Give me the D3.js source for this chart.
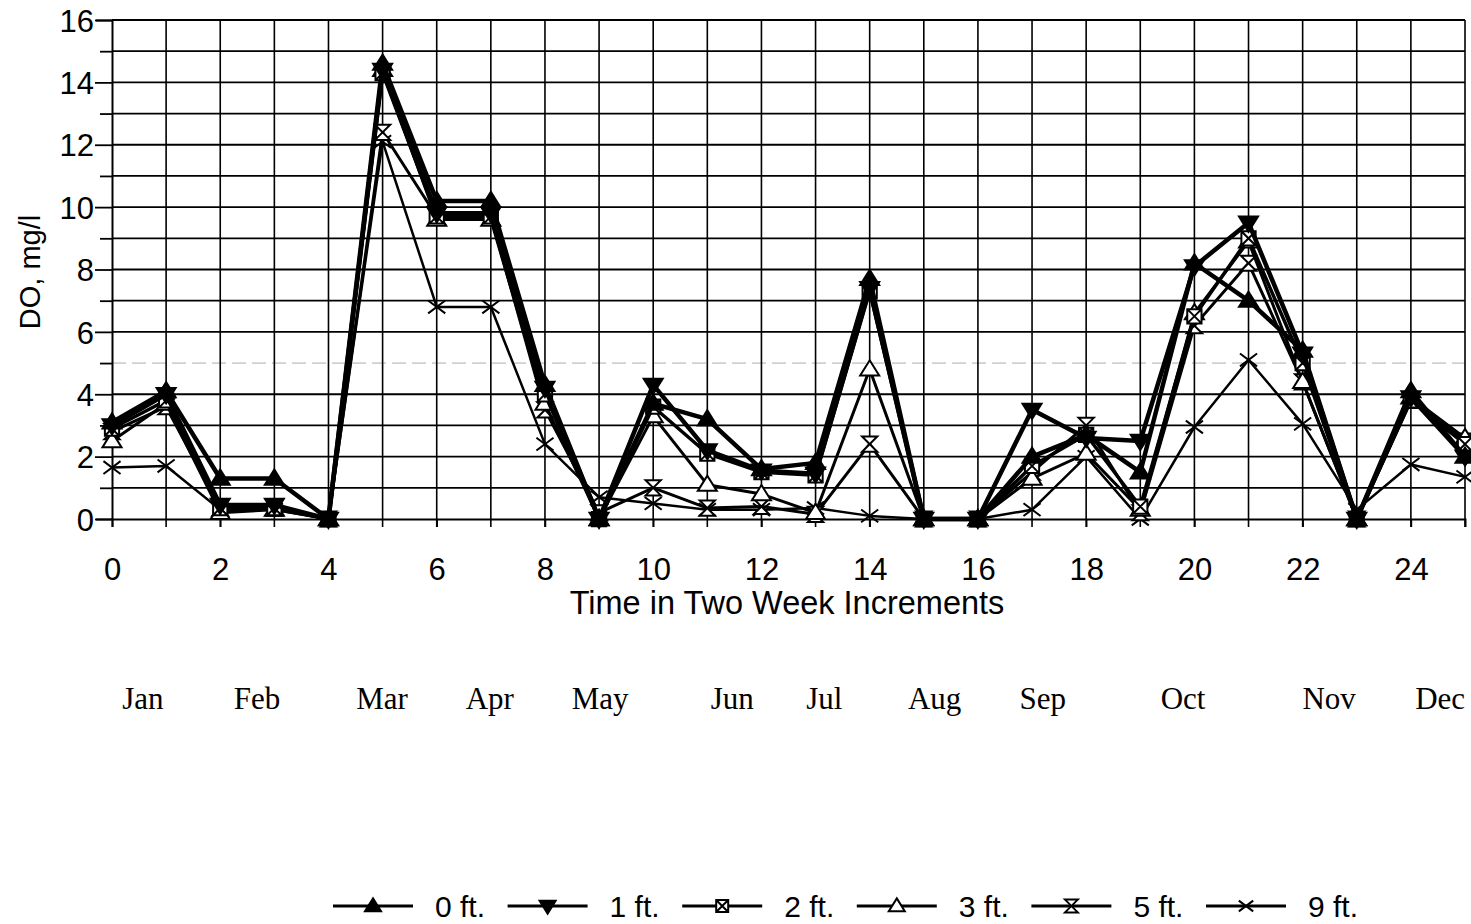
<!DOCTYPE html>
<html>
<head>
<meta charset="utf-8">
<script src="https://cdn.jsdelivr.net/npm/d3@7"></script>
<style>
  html, body { margin: 0; padding: 0; background: #fff; }
  svg { display: block; }
  text { fill: #000; }
</style>
</head>
<body>
<svg id="chart" width="1471" height="924"></svg>
<script>
// ---------- data ----------
const timeSteps = d3.range(0, 26);
const depth0 = [3.1, 4.1, 1.3, 1.3, 0, 14.6, 10.2, 10.2, 4.3, 0, 3.7, 3.2, 1.6, 1.8, 7.7, 0, 0, 2.0, 2.7, 1.5, 8.2, 7.0, 5.4, 0, 4.1, 2.0];
const depth1 = [3.0, 4.0, 0.45, 0.45, 0, 14.4, 9.8, 9.8, 4.2, 0, 4.3, 2.2, 1.55, 1.45, 7.4, 0, 0, 3.5, 2.6, 2.5, 8.1, 9.5, 5.3, 0, 3.9, 2.0];
const depth2 = [2.9, 3.8, 0.35, 0.35, 0, 14.3, 9.7, 9.7, 4.0, 0, 3.6, 2.1, 1.5, 1.4, 7.3, 0, 0, 1.7, 2.7, 0.4, 6.5, 9.0, 5.0, 0, 3.8, 2.4];
const depth3 = [2.5, 3.7, 0.2, 0.3, 0, 14.4, 9.6, 9.6, 3.7, 0, 3.3, 1.1, 0.8, 0.2, 4.8, 0, 0, 1.3, 2.1, 0.3, 6.6, 8.9, 4.4, 0, 3.9, 2.6];
const depth5 = [2.8, 3.6, 0.35, 0.35, 0, 12.4, 9.7, 9.7, 3.5, 0.2, 1.0, 0.35, 0.4, 0.15, 2.4, 0, 0, 1.5, 3.0, 0.2, 6.2, 8.2, 4.4, 0, 3.8, 2.5];
const depth9 = [1.65, 1.7, 0.3, 0.3, 0, 12.1, 6.8, 6.8, 2.4, 0.7, 0.5, 0.3, 0.3, 0.35, 0.1, 0, 0, 0.3, 2.0, 0.0, 2.95, 5.1, 3.05, 0.3, 1.75, 1.35];

const seriesNames = ["0 ft.", "1 ft.", "2 ft.", "3 ft.", "5 ft.", "9 ft."];
const seriesValues = [depth0, depth1, depth2, depth3, depth5, depth9];

const xTickLabels = [0, 2, 4, 6, 8, 10, 12, 14, 16, 18, 20, 22, 24];
const yTickLabels = [0, 2, 4, 6, 8, 10, 12, 14, 16];
const monthNames = ["Jan", "Feb", "Mar", "Apr", "May", "Jun", "Jul", "Aug", "Sep", "Oct", "Nov", "Dec"];
const monthAt = [0.57, 2.68, 4.99, 6.98, 9.02, 11.46, 13.16, 15.2, 17.2, 19.79, 22.49, 24.54];

const xTitle = "Time in Two Week Increments";
const yTitle = "DO, mg/l";

// ---------- styles ----------
const markerKinds = ["triUp", "triDown", "squareX", "triUpOpen", "hourglass", "cross"];
const lineWidths = [4.5, 4.5, 3.5, 3, 3, 2.5];

// ---------- layout ----------
const svg = d3.select("#chart");
const x = d3.scaleLinear().domain([0, 25]).range([112, 1465]);
const y = d3.scaleLinear().domain([0, 16]).range([519, 20]);

// grid
const grid = svg.append("g");
grid.selectAll("line.h").data(d3.range(1, 17)).join("line")
  .attr("x1", x(0)).attr("x2", x(25))
  .attr("y1", d => y(d)).attr("y2", d => y(d))
  .attr("stroke", d => d === 5 ? "#d0d0d0" : "#000")
  .attr("stroke-dasharray", d => d === 5 ? "14 6" : null)
  .attr("stroke-width", 1.8);
grid.selectAll("line.v").data(d3.range(1, 26)).join("line")
  .attr("x1", d => x(d)).attr("x2", d => x(d))
  .attr("y1", y(16)).attr("y2", y(0) + 8)
  .attr("stroke", "#000").attr("stroke-width", 1.6);

// y axis with ticks at every unit
const yAxis = svg.append("g").attr("transform", `translate(${x(0)},0)`)
  .call(d3.axisLeft(y).tickValues(d3.range(0, 17)).tickSize(16)
    .tickFormat(d => yTickLabels.includes(d) ? d : ""));
yAxis.select(".domain").attr("stroke", "#000").attr("stroke-width", 2);
yAxis.selectAll(".tick line").attr("stroke", "#000").attr("stroke-width", 1.8)
  .attr("x2", d => yTickLabels.includes(d) ? -17 : -12);
yAxis.selectAll(".tick text").attr("font-family", "Liberation Sans, Arial, sans-serif")
  .attr("font-size", 31).attr("x", -18).attr("dy", "0.36em").attr("fill", "#000");

// x axis
const xAxis = svg.append("g").attr("transform", `translate(0,${y(0)})`)
  .call(d3.axisBottom(x).tickValues(xTickLabels).tickSize(8).tickFormat(d => d));
xAxis.select(".domain").attr("stroke", "#000").attr("stroke-width", 2);
xAxis.selectAll(".tick line").attr("stroke", "#000").attr("stroke-width", 1.6);
xAxis.selectAll(".tick text").attr("font-family", "Liberation Sans, Arial, sans-serif")
  .attr("font-size", 31).attr("y", 50).attr("dy", "0.36em").attr("fill", "#000");

// top frame
svg.append("line").attr("x1", x(0)).attr("x2", x(25)).attr("y1", y(16)).attr("y2", y(16))
  .attr("stroke", "#000").attr("stroke-width", 2);

// titles
svg.append("text").attr("x", 787).attr("y", 614).attr("text-anchor", "middle")
  .attr("font-family", "Liberation Sans, Arial, sans-serif").attr("font-size", 32.5)
  .text(xTitle);
svg.append("text").attr("transform", "translate(40,272) rotate(-90)").attr("text-anchor", "middle")
  .attr("font-family", "Liberation Sans, Arial, sans-serif").attr("font-size", 29)
  .text(yTitle);

// month labels
svg.append("g").selectAll("text").data(monthNames).join("text")
  .attr("x", (d, i) => x(monthAt[i])).attr("y", 709).attr("text-anchor", "middle")
  .attr("font-family", "Liberation Serif, Times New Roman, serif").attr("font-size", 31)
  .text(d => d);

// marker drawing
function drawMarker(g, kind, s) {
  const h = s;
  if (kind === "triUp" || kind === "triUpOpen") {
    g.append("path").attr("d", `M0,${-h * 0.95}L${h},${h * 0.65}L${-h},${h * 0.65}Z`)
      .attr("fill", kind === "triUp" ? "#000" : "#fff").attr("stroke", "#000").attr("stroke-width", 2);
  } else if (kind === "triDown") {
    g.append("path").attr("d", `M0,${h * 0.95}L${h},${-h * 0.65}L${-h},${-h * 0.65}Z`)
      .attr("fill", "#000").attr("stroke", "#000").attr("stroke-width", 2);
  } else if (kind === "squareX") {
    const a = h * 0.75;
    g.append("path").attr("d", `M${-a},${-a}H${a}V${a}H${-a}Z M${-a},${-a}L${a},${a} M${a},${-a}L${-a},${a}`)
      .attr("fill", "#fff").attr("stroke", "#000").attr("stroke-width", 2);
  } else if (kind === "hourglass") {
    const a = h * 0.8;
    g.append("path").attr("d", `M${-a},${-a}H${a}L${-a},${a}H${a}Z`)
      .attr("fill", "#fff").attr("stroke", "#000").attr("stroke-width", 2);
  } else if (kind === "cross") {
    const a = h * 0.9;
    g.append("path").attr("d", `M${-a},${-a * 0.75}L${a},${a * 0.75}M${a},${-a * 0.75}L${-a},${a * 0.75}`)
      .attr("fill", "none").attr("stroke", "#000").attr("stroke-width", 2);
  }
}

// series (deepest first so surface is on top)
const line = d3.line().x((d, i) => x(timeSteps[i])).y(d => y(d));
const order = [5, 4, 3, 2, 1, 0];
order.forEach(si => {
  const g = svg.append("g");
  g.append("path").datum(seriesValues[si]).attr("d", line)
    .attr("fill", "none").attr("stroke", "#000").attr("stroke-width", lineWidths[si])
    .attr("stroke-linejoin", "round");
  seriesValues[si].forEach((v, i) => {
    const mg = g.append("g").attr("transform", `translate(${x(timeSteps[i])},${y(v)})`);
    drawMarker(mg, markerKinds[si], 9.5);
  });
});

// legend
const legend = svg.append("g");
seriesNames.forEach((name, i) => {
  const lx = 333 + i * 174.6;
  const ly = 906;
  const g = legend.append("g");
  g.append("line").attr("x1", lx).attr("x2", lx + 80).attr("y1", ly).attr("y2", ly)
    .attr("stroke", "#000").attr("stroke-width", 3);
  const mg = g.append("g").attr("transform", `translate(${lx + 40},${ly})`);
  drawMarker(mg, markerKinds[i], 8);
  g.append("text").attr("x", lx + 102).attr("y", ly + 11)
    .attr("font-family", "Liberation Sans Narrow, Arial Narrow, Liberation Sans, sans-serif")
    .attr("font-size", 30).text(name);
});
</script>
</body>
</html>
